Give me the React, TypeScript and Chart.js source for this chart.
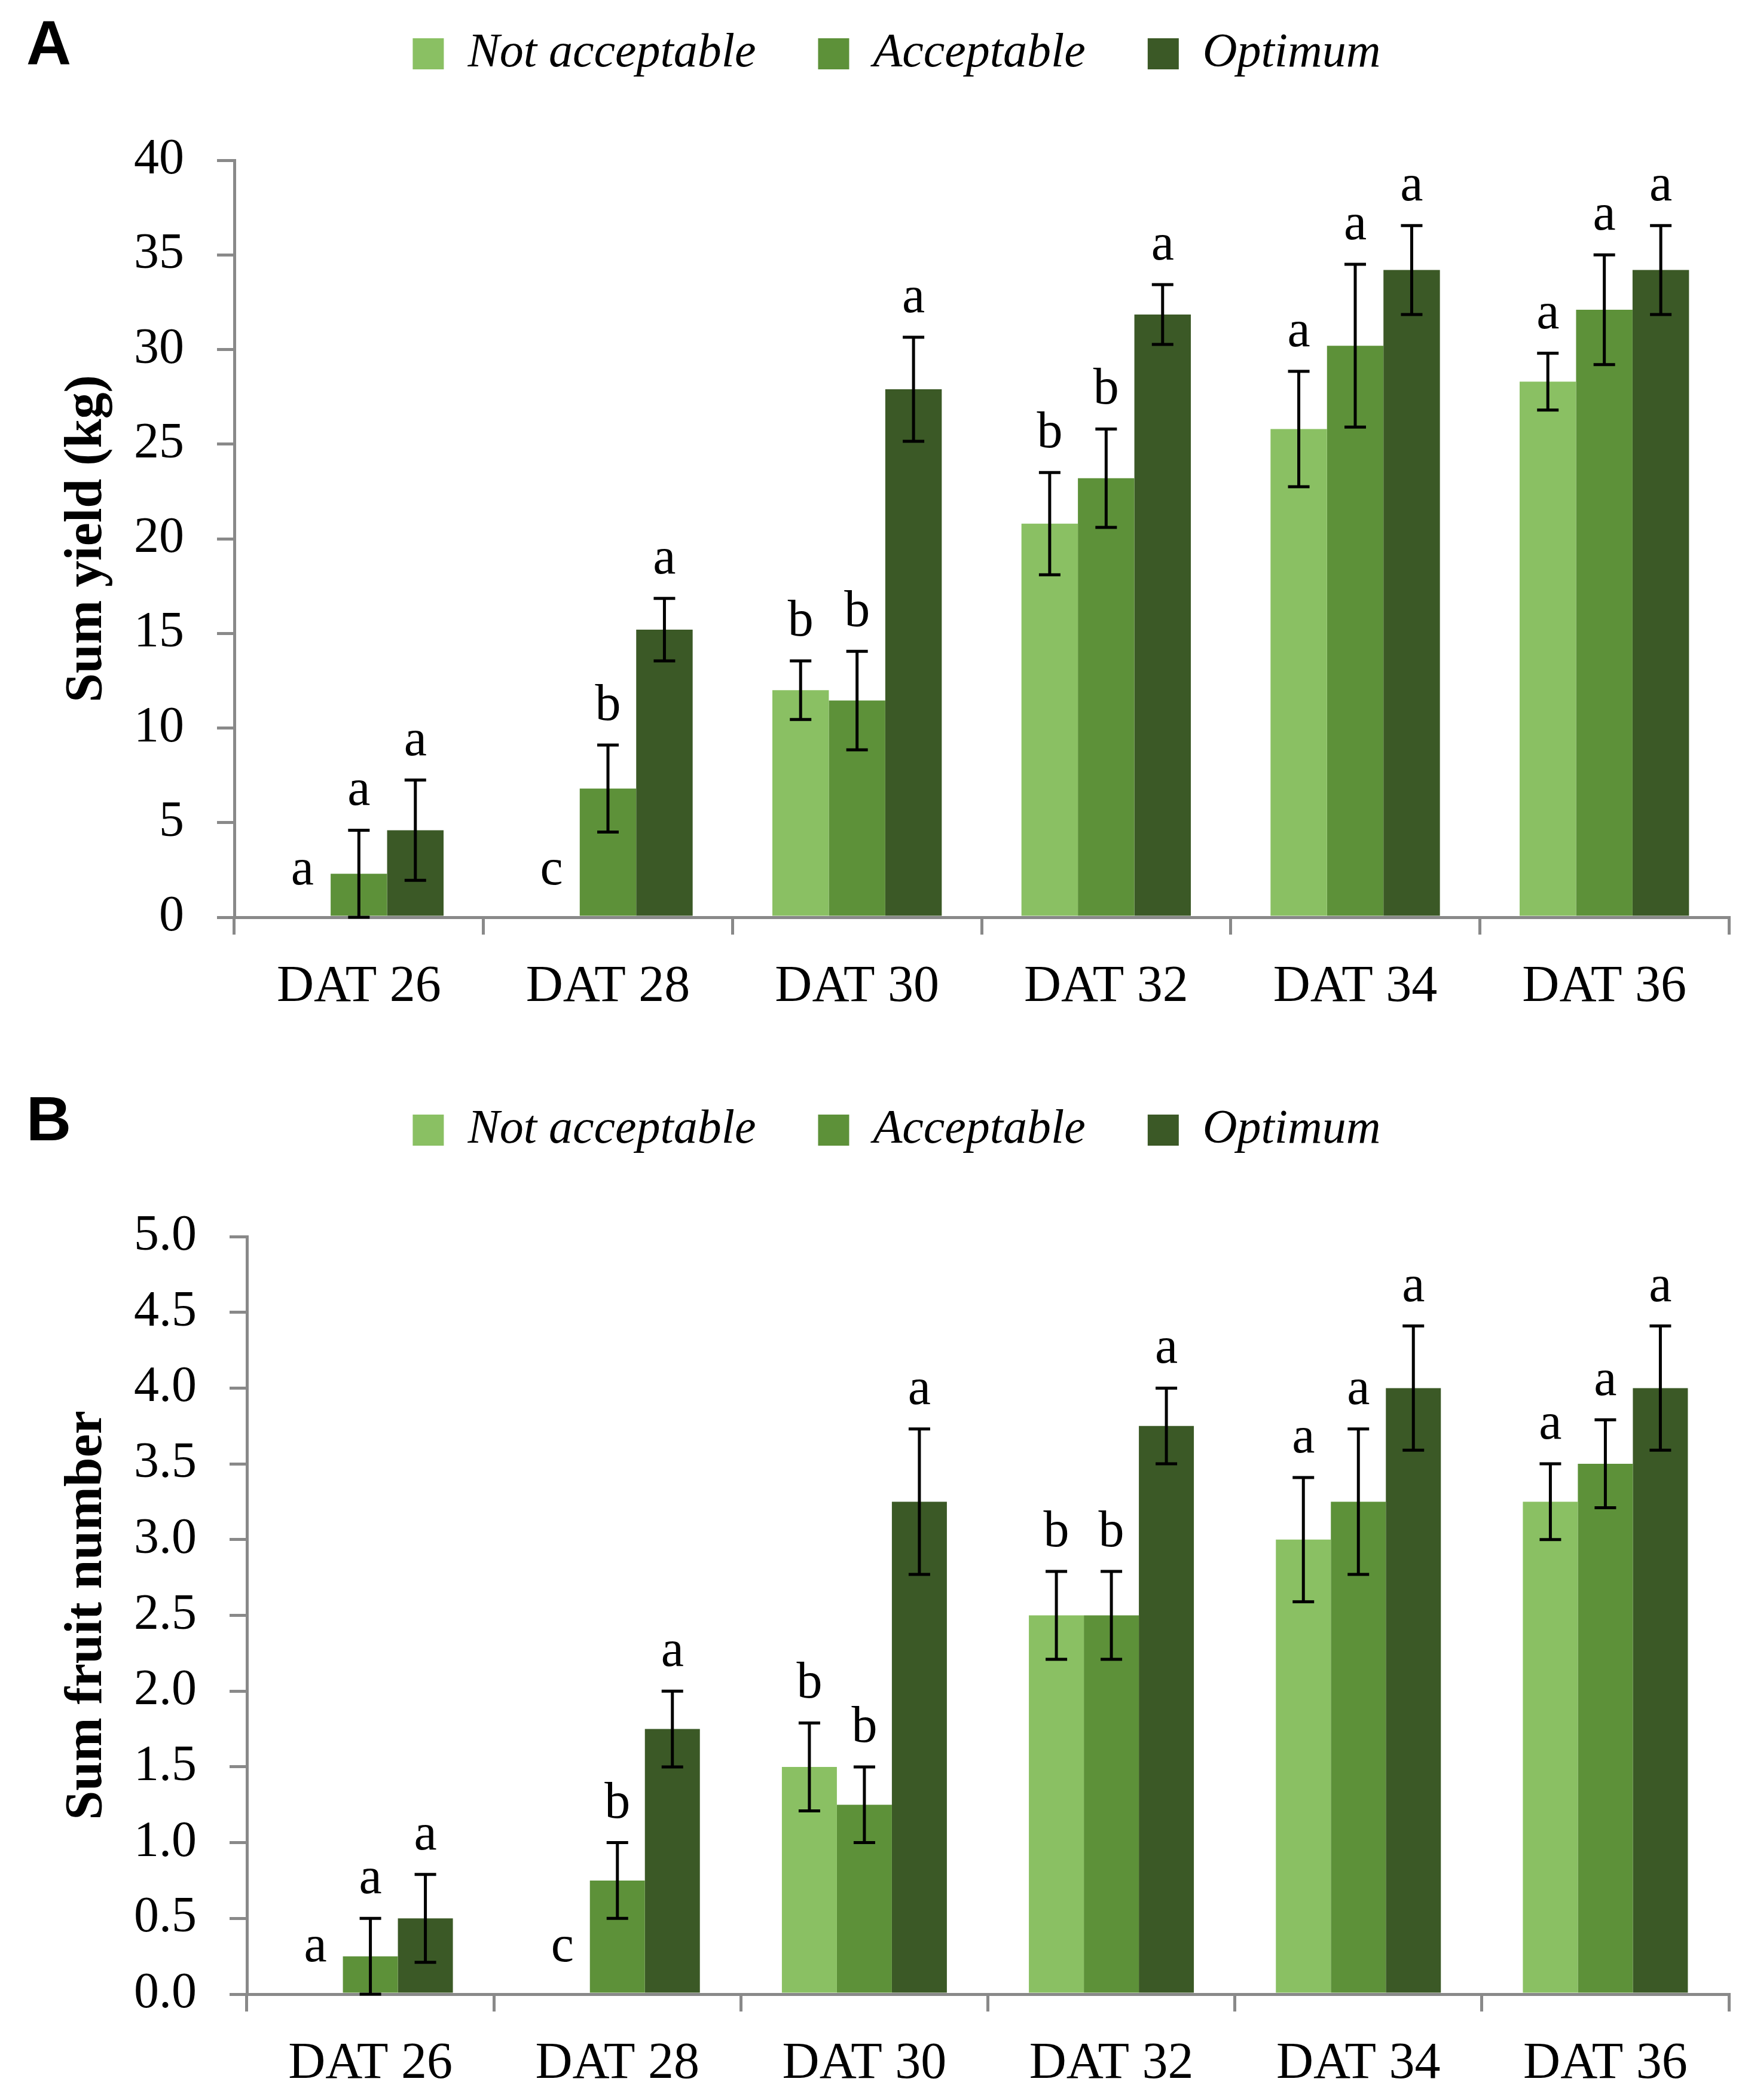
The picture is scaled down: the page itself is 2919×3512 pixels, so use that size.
import React, { useEffect, useRef } from 'react';
import { Chart, registerables } from 'chart.js';

Chart.register(...registerables);

// ---------------- data ----------------
const categories = ['DAT 26', 'DAT 28', 'DAT 30', 'DAT 32', 'DAT 34', 'DAT 36'];
const seriesNames = ['Not acceptable', 'Acceptable', 'Optimum'];
const seriesColors = ['#8AC063', '#5D9139', '#3B5926'];

// Panel A: Sum yield (kg)
const yieldNotAcceptable = [0, 0, 12.0, 20.8, 25.8, 28.3];
const yieldAcceptable = [2.3, 6.8, 11.45, 23.2, 30.2, 32.1];
const yieldOptimum = [4.6, 15.2, 27.9, 31.85, 34.2, 34.2];
const yieldErrNotAcceptable = [0, 0, 1.55, 2.7, 3.05, 1.5];
const yieldErrAcceptable = [2.3, 2.3, 2.6, 2.6, 4.3, 2.9];
const yieldErrOptimum = [2.65, 1.65, 2.75, 1.58, 2.35, 2.35];
const yieldLettersNotAcceptable = ['a', 'c', 'b', 'b', 'a', 'a'];
const yieldLettersAcceptable = ['a', 'b', 'b', 'b', 'a', 'a'];
const yieldLettersOptimum = ['a', 'a', 'a', 'a', 'a', 'a'];

// Panel B: Sum fruit number
const fruitNotAcceptable = [0, 0, 1.5, 2.5, 3.0, 3.25];
const fruitAcceptable = [0.25, 0.75, 1.25, 2.5, 3.25, 3.5];
const fruitOptimum = [0.5, 1.75, 3.25, 3.75, 4.0, 4.0];
const fruitErrNotAcceptable = [0, 0, 0.29, 0.29, 0.41, 0.25];
const fruitErrAcceptable = [0.25, 0.25, 0.25, 0.29, 0.48, 0.29];
const fruitErrOptimum = [0.29, 0.25, 0.48, 0.25, 0.41, 0.41];
const fruitLettersNotAcceptable = ['a', 'c', 'b', 'b', 'a', 'a'];
const fruitLettersAcceptable = ['a', 'b', 'b', 'b', 'a', 'a'];
const fruitLettersOptimum = ['a', 'a', 'a', 'a', 'a', 'a'];

// ---------------- style ----------------
const SERIF = "'Liberation Serif', 'Times New Roman', serif";
const SANS = "'Liberation Sans', Arial, sans-serif";
const AXIS = '#898989';

const errorBarPlugin = {
  id: 'errorBars',
  afterDatasetsDraw(chart: any) {
    const ctx = chart.ctx;
    const yScale = chart.scales.y;
    chart.data.datasets.forEach((ds: any, i: number) => {
      const meta = chart.getDatasetMeta(i);
      meta.data.forEach((bar: any, j: number) => {
        const v = ds.data[j];
        const e = ds.errors[j];
        const top = yScale.getPixelForValue(v + e);
        const bot = yScale.getPixelForValue(Math.max(v - e, 0));
        const x = bar.x;
        ctx.save();
        if (e > 0) {
          ctx.strokeStyle = '#000';
          ctx.lineWidth = 5;
          ctx.beginPath();
          ctx.moveTo(x, top);
          ctx.lineTo(x, bot);
          ctx.moveTo(x - 18, top);
          ctx.lineTo(x + 18, top);
          ctx.moveTo(x - 18, bot);
          ctx.lineTo(x + 18, bot);
          ctx.stroke();
        }
        ctx.fillStyle = '#000';
        ctx.font = `86px ${SERIF}`;
        ctx.textAlign = 'center';
        ctx.textBaseline = 'alphabetic';
        ctx.fillText(ds.letters[j], x, top - (e > 0 ? 42 : 55));
        ctx.restore();
      });
    });
  },
};

const panelLabelPlugin = {
  id: 'panelLabel',
  afterDraw(chart: any, _args: any, opts: any) {
    if (!opts || !opts.text) return;
    const ctx = chart.ctx;
    ctx.save();
    ctx.fillStyle = '#000';
    ctx.font = `bold 104px ${SANS}`;
    ctx.textAlign = 'left';
    ctx.textBaseline = 'alphabetic';
    ctx.fillText(opts.text, opts.x, opts.y);
    ctx.restore();
  },
};

type PanelProps = {
  top: number;
  height: number;
  label: string;
  values: number[][];
  errors: number[][];
  letters: string[][];
  yMax: number;
  step: number;
  decimals: number;
  yTitle: string;
  yWidth: number;
  xHeight: number;
  catPct: number;
};

function Panel(p: PanelProps) {
  const ref = useRef<HTMLCanvasElement | null>(null);
  useEffect(() => {
    if (!ref.current) return;
    const datasets = seriesNames.map((name, i) => ({
      label: name,
      data: p.values[i],
      errors: p.errors[i],
      letters: p.letters[i],
      backgroundColor: seriesColors[i],
      borderWidth: 0,
      categoryPercentage: p.catPct,
      barPercentage: 1.0,
    }));
    const chart = new Chart(ref.current, {
      type: 'bar',
      data: { labels: categories, datasets: datasets as any },
      options: {
        responsive: false,
        animation: false,
        devicePixelRatio: 1,
        layout: { padding: { left: 108, right: 27, top: 0, bottom: 0 } },
        plugins: {
          legend: {
            display: true,
            position: 'top',
            align: 'center',
            weight: 3000,
            labels: {
              boxWidth: 52,
              boxHeight: 52,
              padding: 104,
              color: '#000',
              font: { family: SERIF, size: 80, style: 'italic' },
            },
          } as any,
          title: {
            display: true,
            text: ' ',
            weight: 2000,
            padding: { top: 0, bottom: 127 },
            font: { size: 1, lineHeight: 1 },
          } as any,
          tooltip: { enabled: false },
          panelLabel: { text: p.label, x: 44, y: 161 },
        } as any,
        scales: {
          x: {
            grid: {
              display: true,
              drawOnChartArea: false,
              drawTicks: true,
              tickLength: 29,
              color: AXIS,
              lineWidth: 5,
              offset: true,
            },
            border: { display: true, color: AXIS, width: 5 },
            ticks: {
              color: '#000',
              font: { family: SERIF, size: 86 },
              padding: 37,
              maxRotation: 0,
              autoSkip: false,
            },
            afterFit: (s: any) => {
              s.height = p.xHeight;
            },
          },
          y: {
            min: 0,
            max: p.yMax,
            grid: {
              drawOnChartArea: false,
              drawTicks: true,
              tickLength: 29,
              color: AXIS,
              lineWidth: 5,
            },
            border: { display: true, color: AXIS, width: 5 },
            ticks: {
              stepSize: p.step,
              padding: 55,
              color: '#000',
              font: { family: SERIF, size: 84 },
              callback: (v: any) => Number(v).toFixed(p.decimals),
            },
            title: {
              display: true,
              text: p.yTitle,
              color: '#000',
              font: { family: SERIF, size: 88, weight: 'bold', lineHeight: 0.86 },
              padding: 0,
            },
            afterFit: (s: any) => {
              s.width = p.yWidth;
            },
          },
        },
      },
      plugins: [errorBarPlugin, panelLabelPlugin],
    } as any);
    return () => chart.destroy();
  }, []);
  return (
    <canvas
      ref={ref}
      width={2919}
      height={p.height}
      style={{ position: 'absolute', left: 0, top: p.top, width: 2919, height: p.height, display: 'block' }}
    />
  );
}

export default function App() {
  return (
    <div
      style={{
        position: 'absolute',
        left: 0,
        top: 0,
        width: 2919,
        height: 3512,
        overflow: 'hidden',
        background: '#fff',
      }}
    >
      <Panel
        top={-54}
        height={1800}
        label="A"
        values={[yieldNotAcceptable, yieldAcceptable, yieldOptimum]}
        errors={[yieldErrNotAcceptable, yieldErrAcceptable, yieldErrOptimum]}
        letters={[yieldLettersNotAcceptable, yieldLettersAcceptable, yieldLettersOptimum]}
        yMax={40}
        step={5}
        decimals={0}
        yTitle="Sum yield (kg)"
        yWidth={284}
        xHeight={212}
        catPct={0.68}
      />
      <Panel
        top={1746}
        height={1766}
        label="B"
        values={[fruitNotAcceptable, fruitAcceptable, fruitOptimum]}
        errors={[fruitErrNotAcceptable, fruitErrAcceptable, fruitErrOptimum]}
        letters={[fruitLettersNotAcceptable, fruitLettersAcceptable, fruitLettersOptimum]}
        yMax={5}
        step={0.5}
        decimals={1}
        yTitle="Sum fruit number"
        yWidth={305}
        xHeight={177}
        catPct={0.668}
      />
    </div>
  );
}
